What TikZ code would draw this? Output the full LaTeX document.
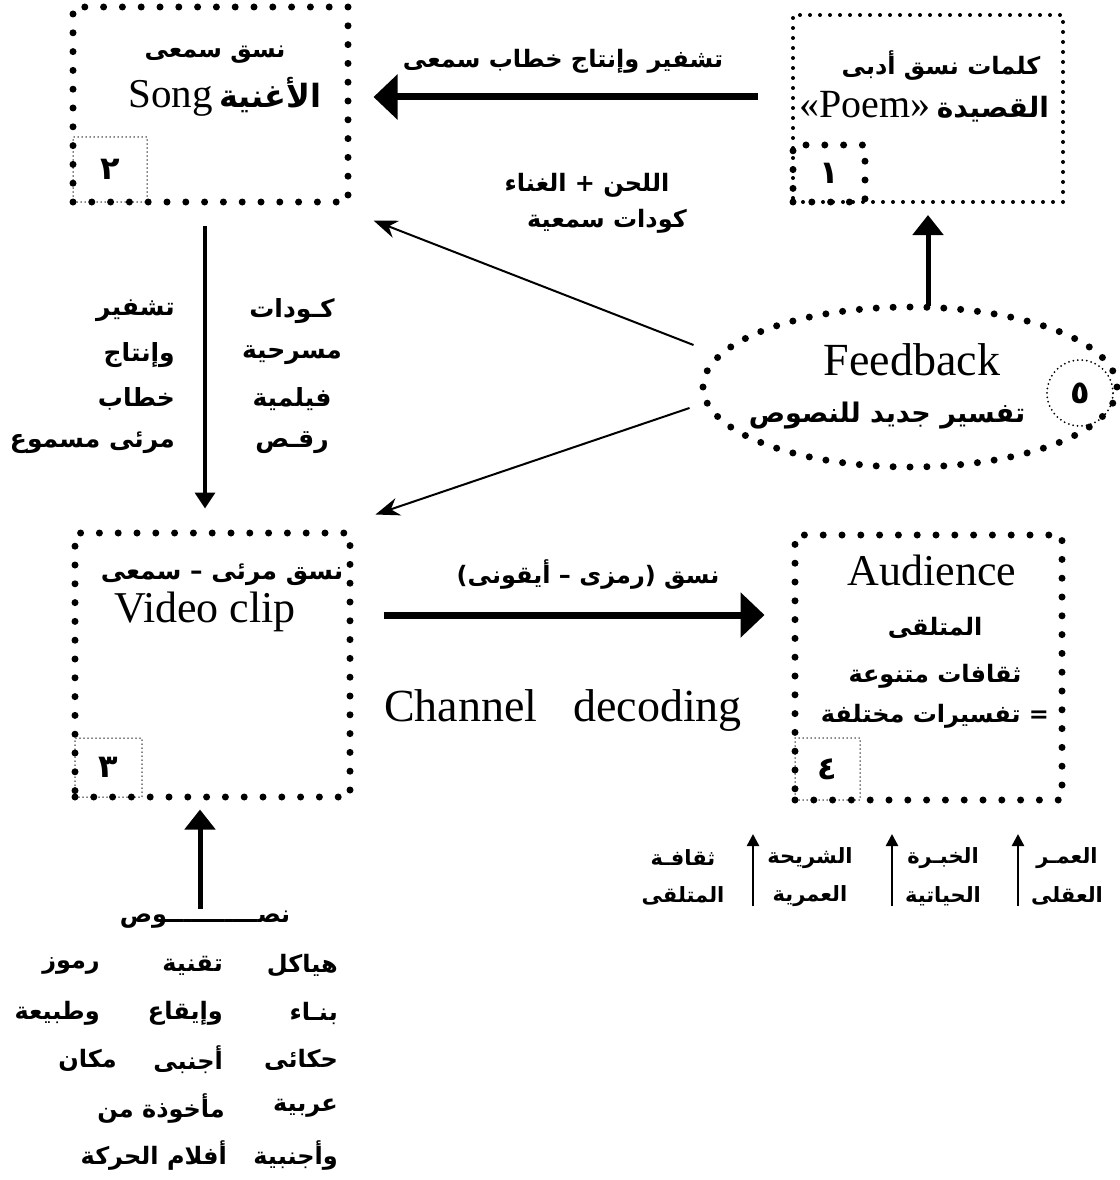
\documentclass[tikz,border=0pt]{standalone}
\usepackage{fontspec}
\setmainfont{Liberation Serif}
\newfontfamily\arfont[Script=Arabic]{DejaVu Sans}
\TeXXeTstate=1
\usetikzlibrary{shapes.geometric,arrows.meta,calc}
\newcommand\artxt[1]{{\arfont\bfseries\beginR #1\endR}}
\newcommand\latfs[1]{\fontsize{#1}{#1}\selectfont}
\begin{document}
\begin{tikzpicture}[x=1pt,y=-1pt,
  bigdots/.style={draw, line width=7pt, line cap=round, dash pattern=on 0pt off 18.8pt},
  ovaldots/.style={draw, line width=7pt, line cap=round, dash pattern=on 0pt off 16.9pt},
  meddots/.style={draw, line width=4pt, line cap=round, dash pattern=on 0pt off 10pt},
  tinydots/.style={draw, line width=1.5pt, line cap=round, dash pattern=on 0pt off 4pt},
  box/.style={rectangle, inner sep=0pt},
  ar/.style={font=\fontsize{24}{28}\arfont\bfseries, inner sep=0pt},
  arbig/.style={font=\fontsize{25}{28}\arfont\bfseries, inner sep=0pt},
  arsm/.style={font=\fontsize{21}{24}\arfont\bfseries, inner sep=0pt},
  numtxt/.style={font=\fontsize{32}{34}\arfont\bfseries},
  lat/.style={inner sep=0pt},
  fat/.style={line width=7pt, -{Triangle[length=24pt,width=44pt]}},
  midfat/.style={line width=5pt, -{Triangle[length=20pt,width=30pt]}},
  thin/.style={line width=2pt, -{Stealth[length=24pt,width=18pt]}},
  vert/.style={line width=3.5pt, -{Triangle[length=16pt,width=20pt]}},
  small/.style={line width=2.5pt, -{Triangle[length=12pt,width=12pt]}}
]
\useasboundingbox (0,0) rectangle (1119,1180);

% ---------- boxes ----------
\node[box, bigdots, minimum width=275pt, minimum height=195pt] (song) at (210.5,104.5) {};
\node[box, tinydots, minimum width=74pt, minimum height=65pt, numtxt] (songnum) at (110,169.5) {٢};

\node[box, meddots, minimum width=270pt, minimum height=187pt] (poem) at (928,108.5) {};
\node[box, bigdots, minimum width=72pt, minimum height=57pt, numtxt] (poemnum) at (829,173.5) {١};

\node[box, bigdots, minimum width=275pt, minimum height=264pt] (video) at (212.5,665) {};
\node[box, tinydots, minimum width=67pt, minimum height=59pt, numtxt] (videonum) at (108.5,767.5) {٣};

\node[box, bigdots, minimum width=267pt, minimum height=265pt] (aud) at (928.5,667.5) {};
\node[box, tinydots, minimum width=65pt, minimum height=62pt, numtxt] (audnum) at (827.5,769) {٤};

\node[ellipse, ovaldots, inner sep=0pt, minimum width=414pt, minimum height=160pt] (fb) at (910,387) {};
\node[circle, draw, line width=2pt, line cap=round, dash pattern=on 0pt off 4.5pt, minimum size=66pt, inner sep=0pt, numtxt] (fbnum) at (1080,393) {٥};

% ---------- box texts ----------
\node[ar] (songa) at (215,55) {\artxt{نسق سمعى}};
\node[lat] (songb) at (225,97) {\latfs{41}Song\,{\fontsize{32}{34}\artxt{الأغنية}}};

\node[ar] (poema) at (941,66) {\artxt{كلمات نسق أدبى}};
\node[lat] (poemb) at (924,107) {\latfs{40}{«}Poem{»}\,{\fontsize{28}{30}\artxt{القصيدة}}};

\node[arbig] (videoa) at (222,575) {\artxt{نسق مرئى – سمعى}};
\node[lat] (videob) at (205,612) {\latfs{44}Video clip};

\node[lat] (auda) at (932,570) {\latfs{44}Audience};
\node[ar] (audb) at (935,628) {\artxt{المتلقى}};
\node[ar] (audc) at (935,676) {\artxt{ثقافات متنوعة}};
\node[ar] (audd) at (935,716) {\artxt{= تفسيرات مختلفة}};

\node[lat] (fba) at (912,360) {\latfs{46}Feedback};
\node[font=\fontsize{27}{30}\arfont\bfseries, inner sep=0pt] (fbb) at (887,416) {\artxt{تفسير جديد للنصوص}};

% ---------- labels ----------
\node[ar] (toplab) at (563,61) {\artxt{تشفير وإنتاج خطاب سمعى}};
\node[ar] (diaga) at (587,185) {\artxt{اللحن + الغناء}};
\node[ar] (diagb) at (607,221) {\artxt{كودات سمعية}};

\node[arbig] (lr1) at (292,311) {\artxt{كـودات}};
\node[arbig] (lr2) at (292,355) {\artxt{مسرحية}};
\node[arbig] (lr3) at (292,399) {\artxt{فيلمية}};
\node[arbig] (lr4) at (292,443) {\artxt{رقـص}};
\node[arbig, anchor=east] (ll1) at (175,311) {\artxt{تشفير}};
\node[arbig, anchor=east] (ll2) at (175,355) {\artxt{وإنتاج}};
\node[arbig, anchor=east] (ll3) at (175,399) {\artxt{خطاب}};
\node[arbig, anchor=east] (ll4) at (175,443) {\artxt{مرئى مسموع}};

\node[ar] (midlab) at (588,575) {\artxt{نسق (رمزى – أيقونى)}};
\node[lat] (chan) at (563,710) {\latfs{46}Channel\hspace{36pt}decoding};

% ---------- bottom right ----------
\node[arsm] (c1a) at (683,858) {\artxt{ثقافـة}};
\node[arsm] (c1b) at (683,896) {\artxt{المتلقى}};
\node[arsm] (c2a) at (810,858) {\artxt{الشريحة}};
\node[arsm] (c2b) at (810,896) {\artxt{العمرية}};
\node[arsm] (c3a) at (943,858) {\artxt{الخبـرة}};
\node[arsm] (c3b) at (943,896) {\artxt{الحياتية}};
\node[arsm] (c4a) at (1067,858) {\artxt{العمـر}};
\node[arsm] (c4b) at (1067,896) {\artxt{العقلى}};
\coordinate (s1a) at (753,906); \coordinate (s1b) at (753,834);
\coordinate (s2a) at (892,906); \coordinate (s2b) at (892,834);
\coordinate (s3a) at (1018,906); \coordinate (s3b) at (1018,834);
\draw[small] (s1a) -- (s1b);
\draw[small] (s2a) -- (s2b);
\draw[small] (s3a) -- (s3b);

% ---------- bottom left ----------
\node[ar] (nusus) at (205,920) {\artxt{نصـــــــــــوص}};
\node[ar, anchor=east] (b11) at (338,966) {\artxt{هياكل}};
\node[ar, anchor=east] (b12) at (338,1013) {\artxt{بنـاء}};
\node[ar, anchor=east] (b13) at (338,1060) {\artxt{حكائى}};
\node[ar, anchor=east] (b14) at (338,1108) {\artxt{عربية}};
\node[ar, anchor=east] (b15) at (338,1155) {\artxt{وأجنبية}};
\node[ar, anchor=east] (b21) at (223,966) {\artxt{تقنية}};
\node[ar, anchor=east] (b22) at (223,1013) {\artxt{وإيقاع}};
\node[ar, anchor=east] (b23) at (223,1060) {\artxt{أجنبى}};
\node[ar, anchor=east] (b24) at (225,1108) {\artxt{مأخوذة من}};
\node[ar, anchor=east] (b25) at (227,1155) {\artxt{أفلام الحركة}};
\node[ar, anchor=east] (b31) at (100,966) {\artxt{رموز}};
\node[ar, anchor=east] (b32) at (100,1013) {\artxt{وطبيعة}};
\node[ar, anchor=east] (b33) at (117,1060) {\artxt{مكان}};

% ---------- connectors ----------
\draw[fat] ([shift={(-33,-11.5)}]poem.west) -- ([shift={(22,-7.5)}]song.east);
\draw[fat] ([shift={(30,-50)}]video.east) -- ([shift={(-27,-52.5)}]aud.west);
\draw[midfat] ([shift={(18,2)}]fb.north) -- ([shift={(0,11)}]poem.south);
\draw[thin] ([shift={(-6,-42)}]fb.west) -- ([shift={(22,15)}]song.south east);
\draw[thin] ([shift={(-10,21)}]fb.west) -- ([shift={(22,-15)}]video.north east);
\draw[vert] ([shift={(-5.5,20)}]song.south) -- ([shift={(-7.5,-21)}]video.north);
\draw[midfat] ([shift={(-5,-2)}]nusus.north) -- ([shift={(-12.5,9)}]video.south);
\end{tikzpicture}
\end{document}
